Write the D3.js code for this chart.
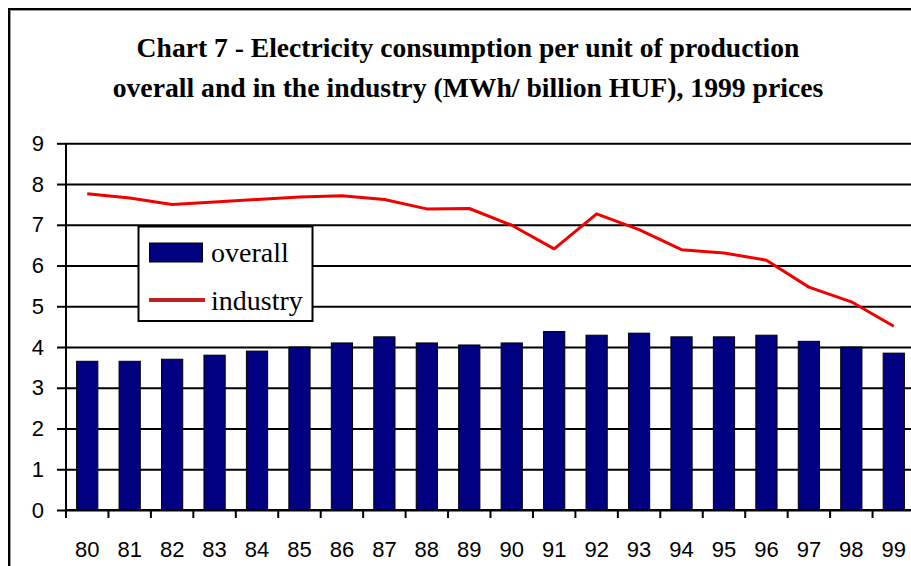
<!DOCTYPE html>
<html>
<head>
<meta charset="utf-8">
<script src="https://cdn.jsdelivr.net/npm/d3@7"></script>
<style>
  html, body { margin: 0; padding: 0; background: #fff; overflow: hidden; }
  svg { display: block; }
</style>
</head>
<body>
<svg id="chart" width="911" height="566"></svg>
<script>
const years = ["80","81","82","83","84","85","86","87","88","89","90","91","92","93","94","95","96","97","98","99"];
const overall = [3.65,3.65,3.7,3.8,3.9,4.0,4.1,4.25,4.1,4.05,4.1,4.38,4.29,4.34,4.25,4.25,4.29,4.14,4.0,3.85];
const industry = [7.76,7.66,7.5,7.56,7.62,7.68,7.71,7.62,7.39,7.4,6.99,6.41,7.27,6.88,6.39,6.31,6.13,5.47,5.11,4.51];
const yTicks = [0,1,2,3,4,5,6,7,8,9];
const titleLines = ["Chart 7 - Electricity consumption per unit of production",
                    "overall and in the industry (MWh/ billion HUF), 1999 prices"];
const seriesNames = ["overall", "industry"];

(function () {
const svg = d3.select("#chart");
svg.append("rect").attr("width", 911).attr("height", 566).attr("fill", "#fff");

// outer frame (extends beyond the visible area on right/bottom)
svg.append("rect").attr("x", 10.5).attr("y", 10.5).attr("width", 1000).attr("height", 1000)
  .attr("fill", "none").attr("stroke", "#999").attr("stroke-width", 1);
svg.append("rect").attr("x", 9).attr("y", 9).attr("width", 1000).attr("height", 1000)
  .attr("fill", "none").attr("stroke", "#000").attr("stroke-width", 2);

const pLeft = 66, pRight = 915, pTop = 143.3, pBottom = 510;
const x = d3.scaleBand().domain(years).range([pLeft, pRight]).padding(0);
const y = d3.scaleLinear().domain([0, 9]).range([pBottom, pTop]);

// title
const title = svg.append("g");
const targets = [[663, 57], [711, 97]];
titleLines.forEach((t, i) => {
  const el = title.append("text")
    .attr("x", 468).attr("y", targets[i][1])
    .attr("text-anchor", "middle")
    .attr("font-family", "'Liberation Serif', serif")
    .attr("font-weight", "bold")
    .attr("font-size", 22)
    .attr("fill", "#000")
    .text(t);
  const len = el.node().getComputedTextLength();
  el.attr("font-size", (22 * targets[i][0] / len).toFixed(2));
});

// gridlines
svg.append("g").attr("transform", `translate(${pLeft},0)`)
  .call(d3.axisLeft(y).tickValues(yTicks).tickSize(-(pRight - pLeft)).tickFormat(""))
  .call(g => g.select(".domain").remove())
  .selectAll("line").attr("stroke", "#000").attr("stroke-width", 2);

// y axis
const yAx = svg.append("g").attr("transform", `translate(${pLeft},0)`)
  .call(d3.axisLeft(y).tickValues(yTicks).tickSize(9).tickPadding(13));
yAx.select(".domain").attr("stroke", "#000").attr("stroke-width", 2).attr("d", `M0,${pTop}V${pBottom}`);
yAx.selectAll("line").attr("stroke", "#000").attr("stroke-width", 2);
yAx.selectAll("text").attr("font-family", "'Liberation Sans', Arial, sans-serif")
  .attr("font-size", 22).attr("fill", "#000");

// bars
const bw = x.bandwidth() * 0.5;
svg.append("g").selectAll("rect").data(overall).join("rect")
  .attr("x", (d, i) => x(years[i]) + (x.bandwidth() - bw) / 2)
  .attr("y", d => y(d))
  .attr("width", bw)
  .attr("height", d => y(0) - y(d))
  .attr("fill", "#000080")
  .attr("stroke", "#000")
  .attr("stroke-width", 1);

// x axis
const xAx = svg.append("g").attr("transform", `translate(0,${pBottom})`)
  .call(d3.axisBottom(x).tickSize(0).tickPadding(0));
xAx.select(".domain").attr("stroke", "#000").attr("stroke-width", 2).attr("d", `M${pLeft},0H${pRight}`);
xAx.selectAll("text").attr("y", 47).attr("dy", 0)
  .attr("font-family", "'Liberation Sans', Arial, sans-serif")
  .attr("font-size", 22).attr("fill", "#000");
const tickPos = years.map(d => x(d)).concat([x(years[years.length - 1]) + x.bandwidth()]);
xAx.append("g").selectAll("line").data(tickPos).join("line")
  .attr("x1", d => d).attr("x2", d => d).attr("y1", 0).attr("y2", 8)
  .attr("stroke", "#000").attr("stroke-width", 2);

// industry line
const line = d3.line()
  .x((d, i) => x(years[i]) + x.bandwidth() / 2)
  .y(d => y(d));
svg.append("path").datum(industry)
  .attr("d", line)
  .attr("fill", "none")
  .attr("stroke", "#f00000")
  .attr("stroke-width", 3)
  .attr("stroke-linejoin", "round");

// legend
const lg = svg.append("g");
lg.append("rect").attr("x", 138.5).attr("y", 226.5).attr("width", 174).attr("height", 94.5)
  .attr("fill", "#fff").attr("stroke", "#000").attr("stroke-width", 2);
lg.append("rect").attr("x", 149.5).attr("y", 243).attr("width", 53).attr("height", 19)
  .attr("fill", "#000080").attr("stroke", "#000").attr("stroke-width", 1);
lg.append("line").attr("x1", 149).attr("x2", 205).attr("y1", 300).attr("y2", 300)
  .attr("stroke", "#c02020").attr("stroke-width", 4);
lg.selectAll("text.lab").data(seriesNames).join("text")
  .attr("class", "lab")
  .attr("x", 211)
  .attr("y", (d, i) => i === 0 ? 262 : 310)
  .attr("font-family", "'Liberation Serif', 'Times New Roman', serif")
  .attr("font-size", 28)
  .attr("fill", "#000")
  .text(d => d);
})();
</script>
</body>
</html>
